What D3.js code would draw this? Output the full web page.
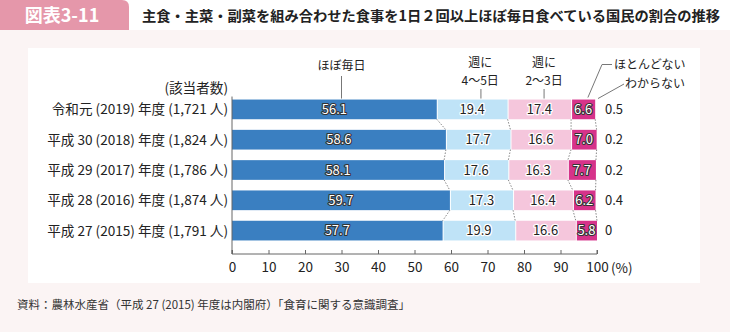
<!DOCTYPE html>
<html><head><meta charset="utf-8">
<script src="https://cdn.jsdelivr.net/npm/d3@7"></script>
<style>
html,body{margin:0;padding:0;background:#fbf4f4;}
text{font-family:"Noto Sans CJK JP","Noto Sans",sans-serif;}
</style></head>
<body>
<svg id="c" width="730" height="332"></svg>
<script>
const categories = ["令和元 (2019) 年度 (1,721 人)","平成 30 (2018) 年度 (1,824 人)","平成 29 (2017) 年度 (1,786 人)","平成 28 (2016) 年度 (1,874 人)","平成 27 (2015) 年度 (1,791 人)"];
const seriesNames = ["ほぼ毎日","週に4〜5日","週に2〜3日","ほとんどない","わからない"];
const almostDaily = [56.1,58.6,58.1,59.7,57.7];
const fourFive = [19.4,17.7,17.6,17.3,19.9];
const twoThree = [17.4,16.6,16.3,16.4,16.6];
const rarely = [6.6,7.0,7.7,6.2,5.8];
const unknown = [0.5,0.2,0.2,0.4,0];
const xTicks = [0,10,20,30,40,50,60,70,80,90,100];

const svg = d3.select("#c");
const W=730,H=332;
svg.append("rect").attr("width",W).attr("height",H).attr("fill","#fbf4f4");
// header
svg.append("rect").attr("width",W).attr("height",30).attr("fill","#fff");
svg.append("path").attr("d","M0,0 H122 Q129,0 129,7 V30 H0 Z").attr("fill","#e597aa");
svg.append("text").attr("x",62).attr("y",22).attr("text-anchor","middle").attr("fill","#fff").attr("font-size",18).attr("font-weight","bold").text("図表3-11");
svg.append("text").attr("x",142).attr("y",21).attr("fill","#222").attr("font-size",14).attr("font-weight","bold")
  .attr("textLength",578).attr("lengthAdjust","spacingAndGlyphs")
  .text("主食・主菜・副菜を組み合わせた食事を1日２回以上ほぼ毎日食べている国民の割合の推移");
// panel
svg.append("rect").attr("x",28).attr("y",48).attr("width",672).attr("height",235).attr("fill","#fff");

const x = d3.scaleLinear().domain([0,100]).range([232,597]);
const y = d3.scaleBand().domain(categories).range([95,245]).paddingInner(0.35).paddingOuter(0.15);

const cols = ["#3a7fc1","#bfe3f7","#f5c6dc","#d6338a","#ffffff"];
const data = categories.map((c,i)=>{
  const vals=[almostDaily[i],fourFive[i],twoThree[i],rarely[i],unknown[i]];
  let acc=0; return vals.map((v,k)=>{const s={cat:c,k,v,x0:acc,x1:acc+v}; acc+=v; return s;});
});

const g = svg.append("g");
// dotted connectors
for(let i=0;i<categories.length-1;i++){
  for(let k=0;k<4;k++){
    const a=data[i][k].x1, b=data[i+1][k].x1;
    g.append("line").attr("x1",x(a)).attr("x2",x(b))
     .attr("y1",y(categories[i])+y.bandwidth()).attr("y2",y(categories[i+1]))
     .attr("stroke","#888").attr("stroke-width",1).attr("stroke-dasharray","1.5,1.5");
  }
}
data.forEach(row=>{
  row.slice(0,4).forEach(s=>{
    g.append("rect").attr("x",x(s.x0)+(s.k>0?1:0)).attr("y",y(s.cat))
     .attr("width",Math.max(0,x(s.x1)-x(s.x0)-(s.k>0?1:0))).attr("height",y.bandwidth()).attr("fill",cols[s.k]);
    const tx=x((s.x0+s.x1)/2), ty=y(s.cat)+y.bandwidth()/2+4.8;
    const dark = (s.k===0||s.k===3);
    const t=g.append("text").attr("x",tx).attr("y",ty).attr("text-anchor","middle").attr("font-size",13)
     .text(s.v.toFixed(1));
    if(dark){ t.attr("fill","#fff").attr("stroke","#333").attr("stroke-width",2.2).attr("paint-order","stroke").attr("stroke-linejoin","round"); }
    else { t.attr("fill","#222").attr("stroke","#fff").attr("stroke-width",2.5).attr("paint-order","stroke").attr("stroke-linejoin","round"); }
  });
  const u=row[4];
  g.append("text").attr("x",x(100)+8).attr("y",y(u.cat)+y.bandwidth()/2+4.8).attr("font-size",13).attr("fill","#222")
   .text(u.v===0?"0":u.v.toFixed(1));
});
// category labels
categories.forEach(c=>{
  svg.append("text").attr("x",228).attr("y",y(c)+y.bandwidth()/2+5).attr("text-anchor","end").attr("font-size",13.6).attr("fill","#222").text(c);
});
svg.append("text").attr("x",228).attr("y",93).attr("text-anchor","end").attr("font-size",13.6).attr("fill","#222").text("(該当者数)");
// axis
const ax = svg.append("g").attr("transform","translate(0,254)")
  .call(d3.axisBottom(x).tickValues(xTicks).tickSize(-4).tickPadding(8).tickFormat(d=>d));
ax.select(".domain").attr("stroke","#666").attr("d",`M${x(0)},-4V0H${x(100)}V-4`);
ax.selectAll(".tick line").attr("stroke","#666");
ax.selectAll(".tick text").attr("font-size",13.5).attr("fill","#222").attr("font-family",'"Noto Sans CJK JP",sans-serif');
// y axis line
svg.append("line").attr("x1",x(0)).attr("x2",x(0)).attr("y1",y(categories[0])-3).attr("y2",254).attr("stroke","#666");
svg.append("text").attr("x",x(100)+14).attr("y",273).attr("font-size",13.5).attr("fill","#222").text("(%)");

// series annotations
const barTop = y(categories[0]);
const ann = svg.append("g").attr("fill","#222").attr("font-size",12);
ann.append("text").attr("x",x(30)).attr("y",70).attr("text-anchor","middle").text(seriesNames[0]);
ann.append("line").attr("x1",x(30)).attr("x2",x(30)).attr("y1",76).attr("y2",barTop-1).attr("stroke","#777");
ann.append("text").attr("x",x(68)).attr("y",67).attr("text-anchor","middle").text("週に");
ann.append("text").attr("x",x(68)).attr("y",85).attr("text-anchor","middle").text("4〜5日");
ann.append("line").attr("x1",x(68.2)).attr("x2",x(68.2)).attr("y1",89).attr("y2",barTop-1).attr("stroke","#777");
ann.append("text").attr("x",x(85.5)).attr("y",67).attr("text-anchor","middle").text("週に");
ann.append("text").attr("x",x(85.5)).attr("y",85).attr("text-anchor","middle").text("2〜3日");
ann.append("line").attr("x1",x(85.5)).attr("x2",x(85.5)).attr("y1",89).attr("y2",barTop-1).attr("stroke","#777");
ann.append("text").attr("x",614).attr("y",69).text(seriesNames[3]);
ann.append("path").attr("d",`M612,64.5 H602 L${x(97.5)},${barTop-2}`).attr("fill","none").attr("stroke","#777");
ann.append("text").attr("x",625).attr("y",88).text(seriesNames[4]);
ann.append("path").attr("d",`M624,84 L${x(100)+1},${barTop-1}`).attr("fill","none").attr("stroke","#777");

// footer
svg.append("text").attr("x",17).attr("y",309).attr("font-size",11.5).attr("fill","#333")
  .text("資料：農林水産省（平成 27 (2015) 年度は内閣府）「食育に関する意識調査」");
</script>
</body></html>
